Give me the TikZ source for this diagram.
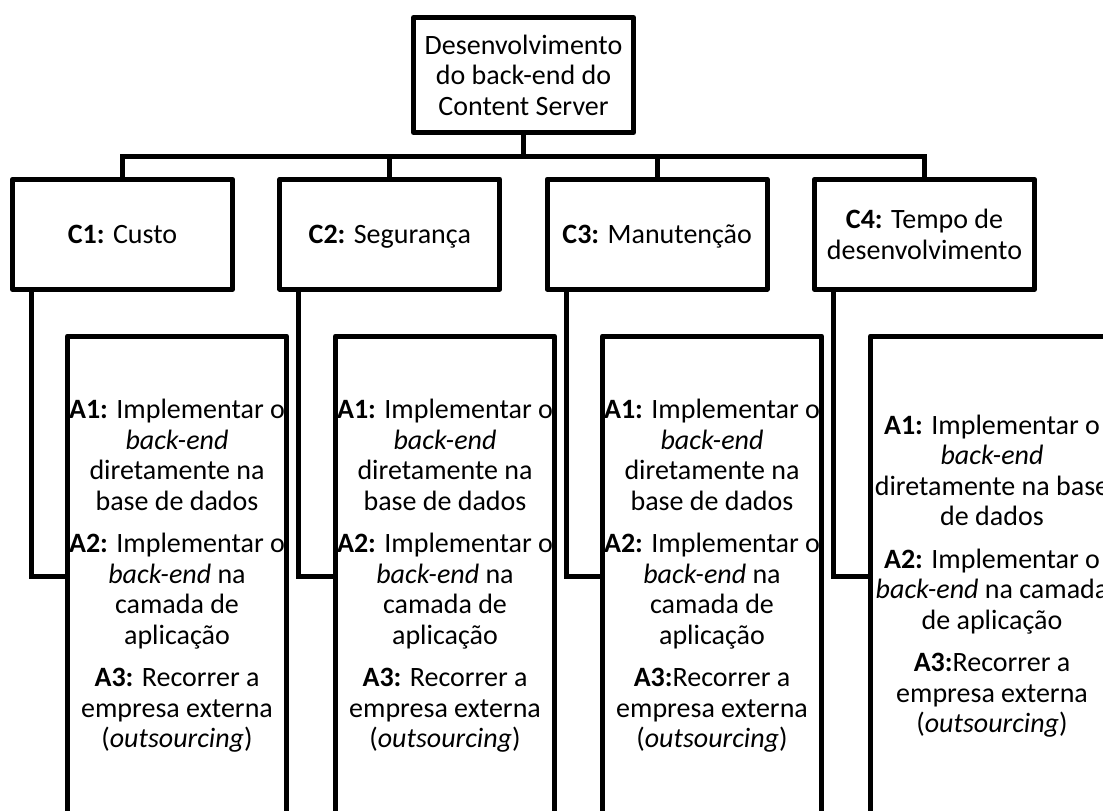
\documentclass[tikz,border=0pt]{standalone}
\usepackage{fontspec}
\setmainfont{Carlito}
\usetikzlibrary{calc}
\newcommand{\critstrut}{\rule[-8pt]{0pt}{34pt}}
\begin{document}
\begin{tikzpicture}[x=1pt,y=-1pt,
  box/.style={draw=black, line width=5pt, line join=round, fill=white,
    inner sep=0pt, align=center, font=\fontsize{28}{30.5}\selectfont},
  topbox/.style={box, minimum width=220pt, minimum height=115pt},
  critbox/.style={box, minimum width=220pt, minimum height=110pt},
  altbox/.style={box, minimum width=219pt, minimum height=480pt},
  link/.style={draw=black, line width=5pt}]
\useasboundingbox[fill=white] (0,0) rectangle (1103,811);
\clip (0,0) rectangle (1103,811);

% root of the tree
\node[topbox] (top) at (523.5,75) {Desenvolvimento\\do back-end do\\Content Server};

% criteria
\node[critbox] (c1) at (122.5,234.2) {\critstrut\textbf{C1:} Custo};
\node[critbox] (c2) at (389.8,234.2) {\critstrut\textbf{C2:} Segurança};
\node[critbox] (c3) at (657.2,234.2) {\critstrut\textbf{C3:} Manutenção};
\node[critbox] (c4) at (924.5,234.2) {\textbf{C4:} Tempo de\\desenvolvimento};

% alternatives under each criterion
\node[altbox] (a1) at (177,576) {\textbf{A1:} Implementar o\\\textit{back-end}\\diretamente na\\base de dados\\[12pt]\textbf{A2:} Implementar o\\\textit{back-end} na\\camada de\\aplicação\\[12pt]\textbf{A3:} Recorrer a\\empresa externa\\(\textit{outsourcing})};
\node[altbox] (a2) at (445,576) {\textbf{A1:} Implementar o\\\textit{back-end}\\diretamente na\\base de dados\\[12pt]\textbf{A2:} Implementar o\\\textit{back-end} na\\camada de\\aplicação\\[12pt]\textbf{A3:} Recorrer a\\empresa externa\\(\textit{outsourcing})};
\node[altbox] (a3) at (712,576) {\textbf{A1:} Implementar o\\\textit{back-end}\\diretamente na\\base de dados\\[12pt]\textbf{A2:} Implementar o\\\textit{back-end} na\\camada de\\aplicação\\[12pt]\textbf{A3:}Recorrer a\\empresa externa\\(\textit{outsourcing})};
\node[altbox, minimum width=243pt] (a4) at (992,576) {\textbf{A1:} Implementar o\\\textit{back-end}\\diretamente na base\\de dados\\[12pt]\textbf{A2:} Implementar o\\\textit{back-end} na camada\\de aplicação\\[12pt]\textbf{A3:}Recorrer a\\empresa externa\\(\textit{outsourcing})};

% branching bar
\coordinate (bar) at (523.5,156);
\draw[link] (top.south) -- (bar);
\draw[link] (c1.north) -- (c1.north |- bar) -- (c4.north |- bar) -- (c4.north);
\draw[link] (c2.north) -- (c2.north |- bar);
\draw[link] (c3.north) -- (c3.north |- bar);

% criterion to alternatives
\draw[link] ($(c1.south west)+(21.5,0)$) |- (a1.west);
\draw[link] ($(c2.south west)+(21.5,0)$) |- (a2.west);
\draw[link] ($(c3.south west)+(21.5,0)$) |- (a3.west);
\draw[link] ($(c4.south west)+(21.5,0)$) |- (a4.west);
\end{tikzpicture}
\end{document}
